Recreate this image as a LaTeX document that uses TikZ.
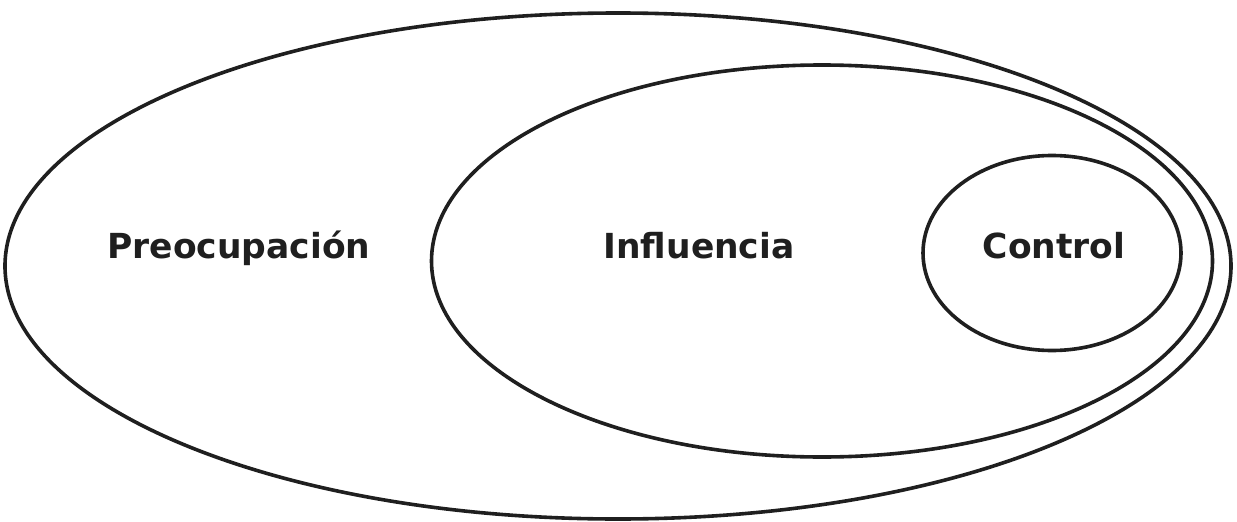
\documentclass[tikz,border=0pt]{standalone}
\usepackage{fontspec}
\setmainfont{DejaVu Sans}
\usetikzlibrary{shapes.geometric}

\begin{document}
\begin{tikzpicture}
[x=1pt,y=-1pt]
  \tikzstyle{ring}=[ellipse,draw=black!88,line width=3.6pt,fill=none,inner sep=0pt,outer sep=0pt]
  \tikzstyle{label}=[font=\bfseries\fontsize{34.5}{40}\selectfont,text=black!88,anchor=base,inner sep=0pt]

  \useasboundingbox (0,0) rectangle (1237,522);
  \node[ring,minimum width=1226pt,minimum height=506pt] (Pre) at (618,266) {};
  \node[ring,minimum width=781pt,minimum height=392pt]  (Inf) at (822,261) {};
  \node[ring,minimum width=258pt,minimum height=195pt]  (Con) at (1052,253) {};

  \node[label] (PreL) at (239,258) {Preocupación};
  \node[label] (InfL) at (699,258) {Influencia};
  \node[label] (ConL) at (1054,258) {Control};
\end{tikzpicture}
\end{document}
